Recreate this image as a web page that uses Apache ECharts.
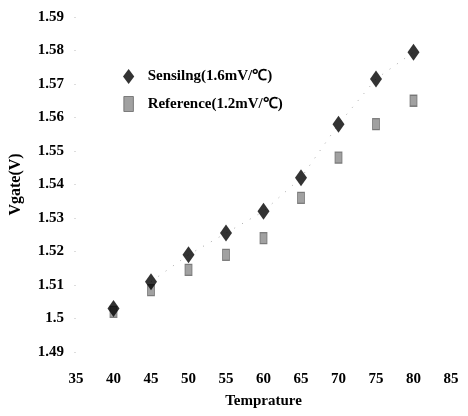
<!DOCTYPE html>
<html><head><meta charset="utf-8">
<script src="https://cdn.jsdelivr.net/npm/echarts@6/dist/echarts.min.js"></script>
<style>html,body{margin:0;padding:0;background:#fff}#c{width:468px;height:416px}</style>
</head><body><div id="c"></div>
<script>
const temps = [40, 45, 50, 55, 60, 65, 70, 75, 80];
const sensing = [1.503, 1.511, 1.519, 1.5255, 1.532, 1.542, 1.558, 1.5715, 1.5795];
const reference = [1.502, 1.5085, 1.5145, 1.519, 1.524, 1.536, 1.548, 1.558, 1.565];
const xTicks = [35, 85, 5];
const yTicks = [1.49, 1.59, 0.01];
const names = ['Sensilng(1.6mV/℃)', 'Reference(1.2mV/℃)'];

const font = '"Liberation Serif", "Times New Roman", serif';
const chart = echarts.init(document.getElementById('c'));
chart.setOption({
  animation: false,
  backgroundColor: '#fff',
  grid: {left: 75, right: 17, top: 17, bottom: 64},
  legend: {
    orient: 'vertical', left: 118, top: 64, itemGap: 12,
    itemWidth: 20, itemHeight: 15,
    textStyle: {fontFamily: font, fontWeight: 'bold', fontSize: 15, color: '#000', padding: [0, 0, 0, 4]},
    data: [
      {name: names[0], icon: 'path://M6,0L12,8L6,16L0,8Z', itemStyle: {color: '#000'}},
      {name: names[1], icon: 'path://M0,0H7V11H0Z', itemStyle: {color: '#8a8a8a', borderColor: '#666', borderWidth: 1}}
    ]
  },
  xAxis: {
    type: 'value', min: xTicks[0], max: xTicks[1], interval: xTicks[2],
    name: 'Temprature', nameLocation: 'middle', nameGap: 42,
    nameTextStyle: {fontFamily: font, fontWeight: 'bold', fontSize: 15, color: '#000'},
    axisLine: {show: false}, axisTick: {show: false}, splitLine: {show: false},
    axisLabel: {fontFamily: font, fontWeight: 'bold', fontSize: 15, color: '#000', margin: 20}
  },
  yAxis: {
    type: 'value', min: yTicks[0], max: yTicks[1], interval: yTicks[2],
    name: 'Vgate(V)', nameLocation: 'middle', nameGap: 52, nameRotate: 90,
    nameTextStyle: {fontFamily: font, fontWeight: 'bold', fontSize: 16, color: '#000'},
    axisLine: {show: false},
    axisTick: {show: true, length: 2, inside: false, lineStyle: {color: '#ddd'}},
    splitLine: {show: false},
    axisLabel: {fontFamily: font, fontWeight: 'bold', fontSize: 15, color: '#000', margin: 12,
      formatter: v => String(+v.toFixed(2))}
  },
  series: [
    {
      name: 'trend', type: 'line', data: temps.slice(1).map((t, i) => [t, sensing[i + 1]]),
      symbol: 'none', silent: true, z: 1,
      lineStyle: {color: '#aaa', width: 1, type: [1, 8]}
    },
    {
      name: names[0], type: 'scatter', data: temps.map((t, i) => [t, sensing[i]]),
      symbol: 'diamond', symbolSize: [12, 17], z: 3,
      itemStyle: {color: '#000'}
    },
    {
      name: names[1], type: 'scatter', data: temps.map((t, i) => [t, reference[i]]),
      symbol: 'rect', symbolSize: [7, 11], z: 2,
      itemStyle: {color: '#8a8a8a', borderColor: '#666', borderWidth: 1}
    }
  ]
});
</script></body></html>
